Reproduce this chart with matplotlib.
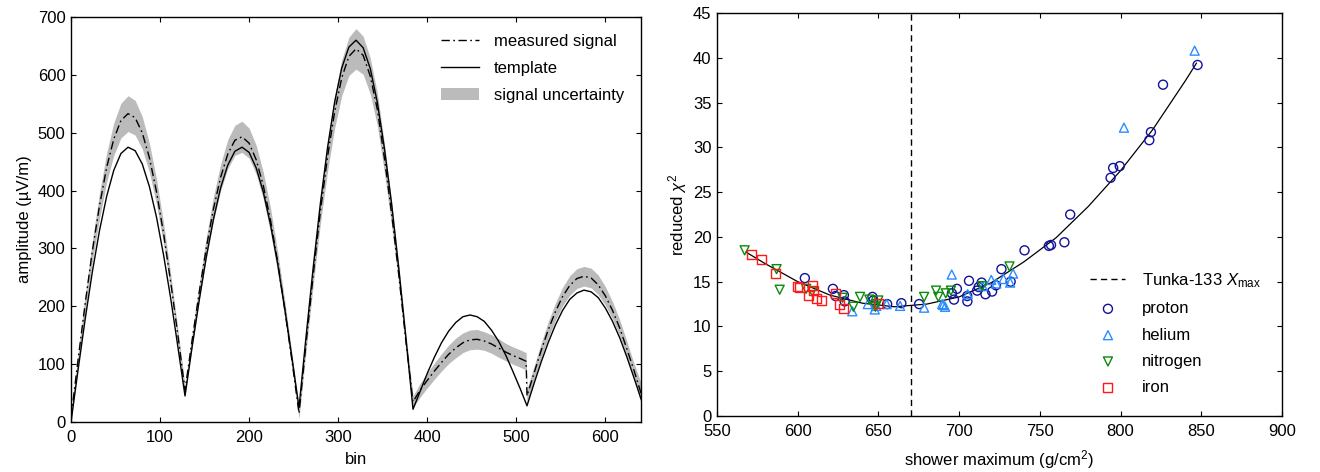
import matplotlib
matplotlib.use("Agg")
import matplotlib.pyplot as plt
from matplotlib.patches import Patch
from matplotlib.lines import Line2D

# ---------------------------------------------------------------
# data: left panel (signal vs template)
# ---------------------------------------------------------------
bins = list(range(0, 512, 8)) + [511] + list(range(512, 641, 8))

template = [0, 91, 179, 260, 331, 390, 435, 464, 475, 469, 446, 407, 354, 288, 213, 130, 45,
            130, 211, 286, 351, 405, 444, 468, 475, 466, 439, 397, 341, 274, 196, 112, 25,
            149, 268, 378, 474, 553, 612, 648, 660, 647, 611, 552, 472, 377, 266, 146, 22,
            53, 84, 112, 137, 157, 172, 182, 185, 182, 174, 159, 140, 116, 88, 59,
            32,
            28, 67, 104, 138, 168, 193, 212, 223, 228, 225, 215, 197, 174, 146, 113, 77, 40]

measured = [8, 109, 206, 296, 374, 440, 489, 521, 533, 526, 500, 457, 398, 325, 241, 150, 55,
            142, 225, 302, 369, 423, 463, 487, 493, 482, 453, 408, 349, 277, 195, 107, 15,
            137, 255, 364, 458, 536, 595, 632, 645, 634, 598, 540, 455, 360, 255, 140, 35,
            55, 72, 88, 103, 117, 128, 137, 142, 143, 140, 135, 128, 121, 115, 110,
            105,
            45, 85, 124, 160, 191, 217, 236, 248, 252, 249, 237, 218, 193, 163, 127, 90, 50]

sigma = [6, 10, 14, 18, 22, 25, 28, 30, 31, 30, 28, 25, 22, 18, 14, 10, 8,
         12, 15, 18, 21, 23, 25, 26, 27, 26, 25, 23, 21, 18, 15, 12, 9,
         13, 17, 21, 25, 28, 31, 33, 35, 33, 31, 28, 25, 21, 17, 13, 10,
         12, 13, 14, 15, 16, 17, 17, 17, 17, 16, 16, 16, 15, 15, 15,
         15,
         12, 12, 13, 14, 15, 16, 17, 17, 17, 17, 17, 16, 15, 14, 13, 12, 18]

# ---------------------------------------------------------------
# data: right panel (reduced chi2 vs Xmax)
# ---------------------------------------------------------------
proton_x = [604.4, 621.8, 623.4, 628.6, 629.1, 646.3, 646.8, 655.4, 664.2, 675.2,
            695.5, 696.8, 698.6, 705.0, 705.1, 706.1, 711.1, 712.1, 713.9, 716.3,
            720.4, 722.8, 726.2, 731.9, 740.5, 755.6, 756.9, 765.2, 768.8, 793.8,
            795.4, 799.5, 817.8, 818.8, 826.3, 847.7]
proton_y = [15.4, 14.2, 13.4, 13.5, 12.8, 13.3, 12.9, 12.5, 12.6, 12.5,
            13.7, 13.0, 14.2, 13.4, 12.8, 15.1, 14.0, 14.4, 14.9, 13.6,
            13.9, 14.6, 16.4, 15.0, 18.5, 19.0, 19.1, 19.4, 22.5, 26.6,
            27.7, 27.9, 30.8, 31.7, 37.0, 39.2]

helium_x = [633.8, 643.4, 647.7, 648.6, 655.1, 663.4, 678.3, 689.5, 690.2, 691.3,
            695.4, 705.3, 714.7, 719.9, 723.0, 727.5, 731.6, 733.4, 802.1, 845.9]
helium_y = [11.7, 12.5, 11.9, 12.3, 12.5, 12.3, 12.1, 12.5, 12.4, 12.2,
            15.8, 13.6, 14.5, 15.2, 14.8, 15.3, 14.9, 15.9, 32.2, 40.8]

nitrogen_x = [567.1, 586.9, 588.8, 605.2, 609.0, 627.8, 634.5, 638.6, 644.4, 648.1,
              649.1, 649.9, 678.3, 685.7, 687.1, 691.7, 694.9, 714.3, 731.2]
nitrogen_y = [18.5, 16.4, 14.1, 14.2, 13.9, 13.2, 12.2, 13.3, 13.0, 12.2,
              12.5, 12.9, 13.3, 14.0, 13.3, 13.7, 14.0, 14.5, 16.7]

iron_x = [571.1, 577.6, 586.2, 600.0, 600.8, 606.5, 609.1, 609.9, 611.4, 615.0,
          623.6, 625.6, 628.5, 649.8]
iron_y = [18.0, 17.5, 15.9, 14.5, 14.4, 13.5, 14.6, 14.0, 13.1, 12.9,
          13.7, 12.5, 12.0, 12.6]

# fitted curve
fit_x = [568, 580, 600, 620, 640, 660, 680, 700, 720, 740, 760, 780, 800, 820, 840, 847]
fit_y = [18.3, 17.0, 15.0, 13.5, 12.6, 12.2, 12.5, 13.3, 14.9, 17.2, 19.9, 23.4, 27.4, 32.0, 37.4, 39.4]

tunka_xmax = 670

# ---------------------------------------------------------------
# style
# ---------------------------------------------------------------
plt.rcParams['font.family'] = ['Liberation Sans', 'DejaVu Sans']
plt.rcParams['font.size'] = 12
plt.rcParams['mathtext.fontset'] = 'custom'
plt.rcParams['mathtext.rm'] = 'Liberation Sans'
plt.rcParams['mathtext.it'] = 'Liberation Sans:italic'
plt.rcParams['xtick.direction'] = 'in'
plt.rcParams['ytick.direction'] = 'in'
plt.rcParams['xtick.top'] = True
plt.rcParams['ytick.right'] = True
plt.rcParams['xtick.major.size'] = 3.5
plt.rcParams['ytick.major.size'] = 3.5
plt.rcParams['xtick.major.pad'] = 6
plt.rcParams['ytick.major.pad'] = 4
plt.rcParams['axes.linewidth'] = 1.0

fig = plt.figure(figsize=(13.2, 4.72), dpi=100)
ax1 = fig.add_axes([0.0538, 0.1059, 0.4318, 0.858])
ax2 = fig.add_axes([0.5432, 0.1186, 0.428, 0.8538])

# --- left panel ---
lower = [m - s for m, s in zip(measured, sigma)]
upper = [m + s for m, s in zip(measured, sigma)]
ax1.fill_between(bins, lower, upper, color='#bbbbbb', lw=0)
ax1.plot(bins, measured, color='black', lw=1.0, ls=(0, (6, 2.5, 1.2, 2.5)))
ax1.plot(bins, template, color='black', lw=1.0)
ax1.set_xlim(0, 640)
ax1.set_ylim(0, 700)
ax1.set_xticks(range(0, 601, 100))
ax1.set_yticks(range(0, 701, 100))
ax1.set_xlabel('bin', labelpad=5)
ax1.set_ylabel('amplitude (µV/m)', labelpad=4)

handles1 = [Line2D([], [], color='black', lw=1.0, ls=(0, (6, 2.5, 1.2, 2.5))),
            Line2D([], [], color='black', lw=1.0),
            Patch(facecolor='#bbbbbb', edgecolor='none')]
ax1.legend(handles1, ['measured signal', 'template', 'signal uncertainty'],
           loc='upper right', frameon=False, handlelength=2.3, handletextpad=0.9,
           labelspacing=0.72, borderaxespad=0.6)

# --- right panel ---
ax2.axvline(tunka_xmax, color='black', lw=1.0, ls=(0, (4.5, 3)),
            label='Tunka-133 $X_\\mathrm{max}$')
ax2.plot(fit_x, fit_y, color='black', lw=0.9)
ax2.scatter(proton_x, proton_y, s=42, marker='o', facecolors='none',
            edgecolors='#10109a', linewidths=1.0, label='proton', zorder=3)
ax2.scatter(helium_x, helium_y, s=42, marker='^', facecolors='none',
            edgecolors='#2a8cff', linewidths=1.0, label='helium', zorder=3)
ax2.scatter(nitrogen_x, nitrogen_y, s=42, marker='v', facecolors='none',
            edgecolors='#0a8a0a', linewidths=1.0, label='nitrogen', zorder=3)
ax2.scatter(iron_x, iron_y, s=42, marker='s', facecolors='none',
            edgecolors='#ff1a1a', linewidths=1.0, label='iron', zorder=3)
ax2.set_xlim(550, 900)
ax2.set_ylim(0, 45)
ax2.set_xticks(range(550, 901, 50))
ax2.set_yticks(range(0, 46, 5))
ax2.set_xlabel('shower maximum (g/cm$^2$)', labelpad=6)
ax2.set_ylabel('reduced $\\chi^2$', labelpad=3)
ax2.legend(loc='lower right', frameon=False, scatterpoints=1, handlelength=2.1,
           handletextpad=1.0, labelspacing=0.68, borderaxespad=0.85)

fig.savefig('out.png', dpi=100)
